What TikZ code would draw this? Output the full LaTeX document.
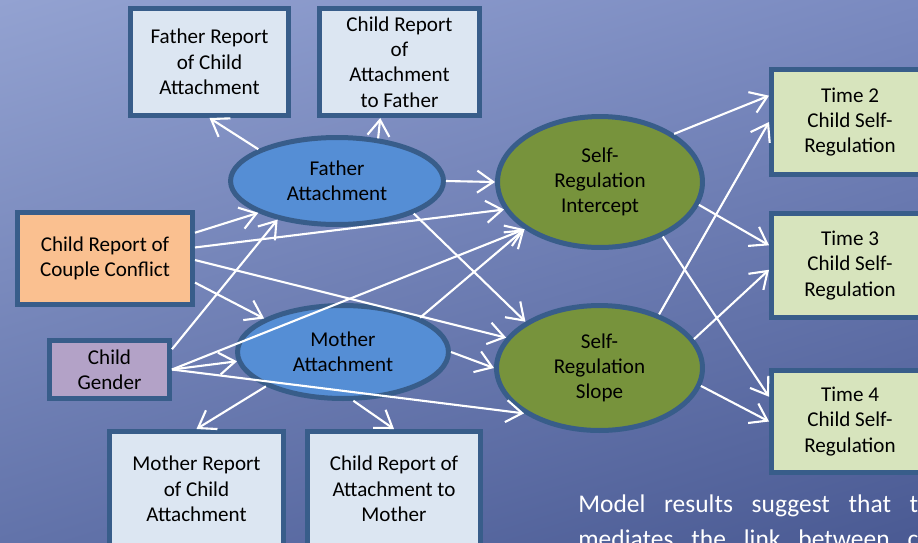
\documentclass[tikz,border=0pt]{standalone}
\usepackage{fontspec}
\setmainfont{Carlito}
\usepackage{tikz}
\usetikzlibrary{arrows.meta,shapes.geometric,shadings}

\definecolor{rimblue}{HTML}{385D8A}
\definecolor{reportfill}{HTML}{DCE6F2}
\definecolor{conflictfill}{HTML}{FAC090}
\definecolor{genderfill}{HTML}{B3A2C7}
\definecolor{timefill}{HTML}{D7E4BD}
\definecolor{attachfill}{HTML}{558ED5}
\definecolor{selffill}{HTML}{77933C}
\definecolor{bgtl}{HTML}{93A2D1}
\definecolor{bgtr}{HTML}{7A8AC0}
\definecolor{bgbl}{HTML}{6273AA}
\definecolor{bgbr}{HTML}{4A5A93}

\begin{document}
\begin{tikzpicture}[x=0.02cm, y=-0.02cm,
    box/.style={draw=rimblue, line width=0.1cm, rectangle, align=center, inner sep=0pt,
        font=\fontsize{12}{14.4}\selectfont},
    latent/.style={draw=rimblue, line width=0.1cm, ellipse, align=center, inner sep=0pt,
        font=\fontsize{12}{14.4}\selectfont},
    timebox/.style={box, fill=timefill, minimum width=3.14cm},
    link/.style={draw=white, line width=1.2pt, -{Straight Barb[length=3.2mm,width=4.4mm]}},
    note/.style={anchor=base west, text=white, inner sep=0pt, text width=6.8cm,
        font=\fontsize{14.5}{17}\selectfont}]
    \useasboundingbox (0,0) rectangle (918,542);
    \clip (0,0) rectangle (918,542);
    \shade[upper left=bgtl, upper right=bgtr, lower left=bgbl, lower right=bgbr] (0,0) rectangle (918,542);

    % Indicators of the two attachment factors
    \node [box, fill=reportfill, minimum width=3.16cm, minimum height=2.14cm] (frep) at (209.5,62) {Father Report\\of Child\\Attachment};
    \node [box, fill=reportfill, minimum width=3.2cm, minimum height=2.14cm] (crepf) at (399.5,62) {Child Report\\of\\Attachment\\to Father};
    \node [box, fill=reportfill, minimum width=3.48cm, minimum height=2.3cm] (mrep) at (196.5,489) {Mother Report\\of Child\\Attachment};
    \node [box, fill=reportfill, minimum width=3.46cm, minimum height=2.3cm] (crepm) at (394,489) {Child Report of\\Attachment to\\Mother};

    % Predictors
    \node [box, fill=conflictfill, minimum width=3.5cm, minimum height=1.84cm] (conf) at (105,258.5) {Child Report of\\Couple Conflict};
    \node [box, fill=genderfill, minimum width=2.4cm, minimum height=1.16cm] (gend) at (109.5,369.5) {Child\\Gender};

    % Latent factors
    \node [latent, fill=attachfill, minimum width=4.26cm, minimum height=1.74cm] (fatt) at (337,181) {Father\\Attachment};
    \node [latent, fill=attachfill, minimum width=4.22cm, minimum height=1.86cm] (matt) at (343,352) {Mother\\Attachment};
    \node [latent, fill=selffill, minimum width=4.1cm, minimum height=2.62cm] (sint) at (600,182) {Self-\\Regulation\\Intercept};
    \node [latent, fill=selffill, minimum width=4.12cm, minimum height=2.5cm] (sslp) at (599.5,368) {Self-\\Regulation\\Slope};

    % Outcomes
    \node [timebox, minimum height=2.1cm] (t2) at (850,122) {Time 2\\Child Self-\\Regulation};
    \node [timebox, minimum height=2.08cm] (t3) at (850,265.5) {Time 3\\Child Self-\\Regulation};
    \node [timebox, minimum height=2.04cm] (t4) at (850,421.5) {Time 4\\Child Self-\\Regulation};

    % Paths
    \foreach \a/\b in {fatt.158/frep.south, fatt.46/crepf.251, fatt.east/sint.west, fatt.337/sslp.148,
                       matt.204/mrep.north, matt.282/crepm.north, matt.24/sint.212, matt.east/sslp.west,
                       conf.16/fatt.202, conf.7/sint.196, conf.345/matt.157, conf.359/sslp.162,
                       gend.18/fatt.213, gend.east/sint.212, gend.east/matt.185, gend.east/sslp.211,
                       sint.33/t2.162, sint.347/t3.166, sint.319/t4.163,
                       sslp.42/t2.west, sslp.17/t3.183, sslp.350/t4.west} {
        \draw [link] (\a) -- (\b);
    }

    % Caption text, cut off at the edge
    \node [note] (msga) at (578,512) {Model\hfill results\hfill suggest\hfill that\hfill t};
    \node [note] (msgb) at (578,547) {mediates\hfill the\hfill link\hfill between\hfill c};
\end{tikzpicture}
\end{document}
